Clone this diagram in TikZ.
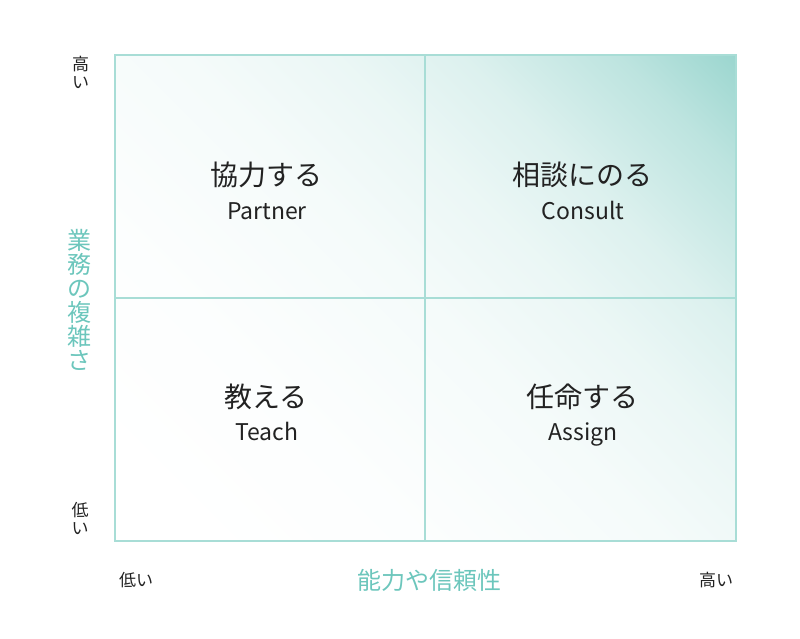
\documentclass[tikz,border=0pt]{standalone}
\usepackage{fontspec}
\setmainfont{Noto Sans CJK JP}
\usepackage{tikz}
\usetikzlibrary{positioning}

\definecolor{quadteal}{HTML}{99D5CE}
\definecolor{gridteal}{HTML}{A8DDD6}
\definecolor{axisteal}{HTML}{6CC6BC}
\definecolor{inkgray}{HTML}{222222}
\pgfdeclarehorizontalshading{quadfade}{100bp}{color(0bp)=(white); color(20bp)=(white); color(35bp)=(quadteal!3); color(50bp)=(quadteal!10); color(60bp)=(quadteal!20); color(68bp)=(quadteal!34); color(78bp)=(quadteal!65); color(86bp)=(quadteal); color(100bp)=(quadteal)}

\begin{document}
\begin{tikzpicture}[x=1pt,y=-1pt,
    quadjp/.style={font=\fontsize{28}{32}\selectfont, text=inkgray, anchor=base, inner sep=0pt},
    quaden/.style={font=\fontsize{23}{26}\selectfont, text=inkgray, anchor=base, inner sep=0pt},
    ticklbl/.style={font=\fontsize{17}{18}\selectfont, text=inkgray, align=center, inner sep=0pt},
    axislbl/.style={font=\fontsize{24}{24}\selectfont, text=axisteal, align=center, inner sep=0pt},
    gridline/.style={gridteal, line width=1.2pt}]
    \useasboundingbox (0,0) rectangle (800,638);

    % corners and midpoints of the field
    \coordinate (ul) at (115,55);
    \coordinate (ur) at (736,55);
    \coordinate (ll) at (115,541);
    \coordinate (lr) at (736,541);
    \coordinate (topmid) at (425,55);
    \coordinate (botmid) at (425,541);
    \coordinate (leftmid) at (115,298);
    \coordinate (rightmid) at (736,298);

    % background, darkest in the upper right corner
    \shade[shading=quadfade, shading angle=45] (ll) rectangle (ur);
    \draw[gridline] (ll) rectangle (ur);
    \draw[gridline] (topmid) -- (botmid);
    \draw[gridline] (leftmid) -- (rightmid);

    % quadrants
    \node[quadjp] (partnerjp) at (266,185) {協力する};
    \node[quaden] (partneren) at (267,219) {Partner};
    \node[quadjp] (consultjp) at (582,185) {相談にのる};
    \node[quaden] (consulten) at (583,219) {Consult};
    \node[quadjp] (teachjp) at (266,407) {教える};
    \node[quaden] (teachen) at (267,440) {Teach};
    \node[quadjp] (assignjp) at (582,407) {任命する};
    \node[quaden] (assignen) at (583,440) {Assign};

    % vertical axis
    \node[ticklbl] (yhigh) at (80.5,72.5) {高\\い};
    \node[ticklbl] (ylow) at (80,518) {低\\い};
    \node[axislbl] (ytitle) at (79,300) {業\\務\\の\\複\\雑\\さ};

    % horizontal axis
    \node[ticklbl] (xlow) at (136,580) {低い};
    \node[ticklbl] (xhigh) at (716,580) {高い};
    \node[axislbl] (xtitle) at (429,580) {能力や信頼性};
\end{tikzpicture}
\end{document}
